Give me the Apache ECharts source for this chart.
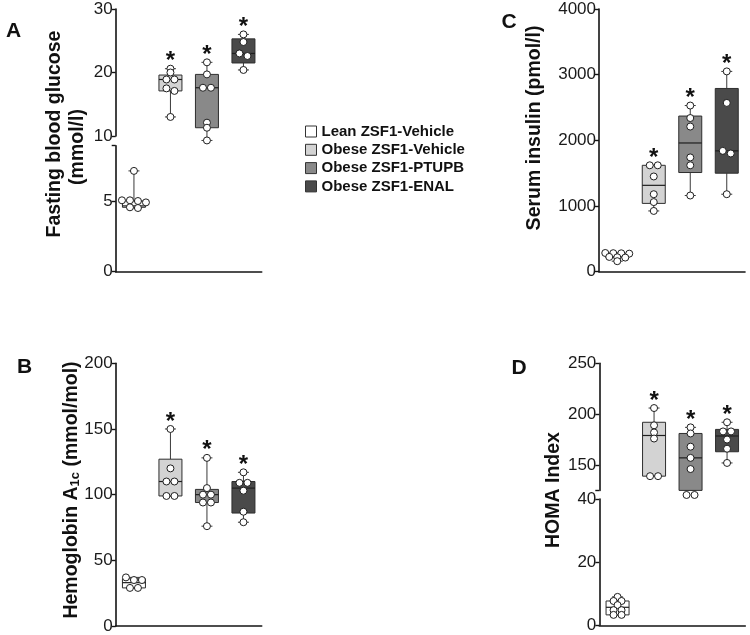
<!DOCTYPE html>
<html><head><meta charset="utf-8">
<script src="https://cdn.jsdelivr.net/npm/echarts@6/dist/echarts.min.js"></script>
<style>html,body{margin:0;padding:0;background:#fff}#c{width:750px;height:635px}</style>
</head><body><div id="c"></div>
<script>
// ---------- DATA ----------
const groups = ['Lean ZSF1-Vehicle', 'Obese ZSF1-Vehicle', 'Obese ZSF1-PTUPB', 'Obese ZSF1-ENAL'];
const significant = [0, 1, 1, 1];

// A: Fasting blood glucose (mmol/l)  box = [min, Q1, median, Q3, max]
const glucoseBox = [[4.55, 4.6, 4.7, 5.05, 7.2], [13.0, 17.1, 18.9, 19.6, 20.6], [9.3, 11.3, 17.6, 19.7, 21.6], [20.4, 21.5, 23.0, 25.3, 26.0]];
const glucosePts = [[7.2, 5.1, 5.1, 5.05, 4.95, 4.6, 4.55], [20.6, 20.0, 18.9, 18.9, 17.5, 17.1, 13.0], [21.6, 19.7, 17.6, 17.6, 12.1, 11.3, 9.3], [26.0, 24.8, 23.0, 22.6, 20.4]];
const glucoseTicksLow = [0, 5];
const glucoseTicksHigh = [10, 20, 30];

// B: Hemoglobin A1c (mmol/mol)
const hba1cBox = [[29, 29, 33, 36, 37], [99, 99, 110, 127, 150], [76, 94, 100, 104, 128], [79, 86, 105, 110, 117]];
const hba1cPts = [[37, 35, 35, 29, 29], [150, 120, 110, 110, 99, 99], [128, 105, 100, 100, 94, 94, 76], [117, 109, 109, 103, 87, 79]];
const hba1cTicks = [0, 50, 100, 150, 200];

// C: Serum insulin (pmol/l)
const insulinBox = [[160, 215, 245, 280, 285], [925, 1040, 1315, 1620, 1620], [1160, 1510, 1960, 2370, 2530], [1180, 1500, 1840, 2790, 3050]];
const insulinPts = [[285, 282, 280, 275, 225, 220, 215, 160], [1620, 1620, 1450, 1180, 1060, 925], [2530, 2340, 2210, 1740, 1620, 1160], [3050, 2570, 1840, 1800, 1180]];
const insulinTicks = [0, 1000, 2000, 3000, 4000];

// D: HOMA Index
const homaBox = [[3.3, 3.3, 5.7, 7.7, 9.0], [139, 139, 179, 192, 206], [125, 125, 157, 181, 187], [152, 163, 178.5, 185, 192]];
const homaPts = [[9.0, 7.7, 7.7, 6.4, 4.8, 4.8, 3.3, 3.3], [206, 189, 182, 176, 139, 139], [187, 181, 168, 157, 146, 120.5, 120.5], [192, 183, 183, 175, 166, 152]];
const homaTicksLow = [0, 20, 40];
const homaTicksHigh = [150, 200, 250];

// ---------- STYLE ----------
const FONT = "'Liberation Sans', Arial, Helvetica, sans-serif";
const groupColors = ['#ffffff', '#d3d3d3', '#898989', '#4a4a4a'];
const AXIS = '#141414';

function rowOffsets(vals, unitPx) {
  const order = vals.map((v, i) => i).sort((a, b) => vals[b] - vals[a]);
  const offs = new Array(vals.length).fill(0);
  let row = [];
  const flush = () => { const k = row.length; row.forEach((i, j) => offs[i] = (j - (k - 1) / 2) * 8); row = []; };
  order.forEach(i => {
    if (row.length && ((vals[row[row.length - 1]] - vals[i]) * unitPx >= 3 || row.length >= 4)) flush();
    row.push(i);
  });
  flush();
  return offs;
}

function boxRender(params, api) {
  const c = api.value(0);
  const v = [1, 2, 3, 4, 5].map(i => api.value(i));
  const sig = api.value(6);
  const py = val => api.coord([c, val])[1];
  const cx = api.coord([c, v[2]])[0];
  const yMin = py(v[0]), yQ1 = py(v[1]), yMed = py(v[2]), yQ3 = py(v[3]), yMax = py(v[4]);
  const hw = 11.5, cw = 5.5;
  const ls = { stroke: '#3a3a3a', lineWidth: 1 };
  const ch = [
    { type: 'line', shape: { x1: cx, y1: yQ3, x2: cx, y2: yMax }, style: ls },
    { type: 'line', shape: { x1: cx, y1: yQ1, x2: cx, y2: yMin }, style: ls },
    { type: 'line', shape: { x1: cx - cw, y1: yMax, x2: cx + cw, y2: yMax }, style: ls },
    { type: 'line', shape: { x1: cx - cw, y1: yMin, x2: cx + cw, y2: yMin }, style: ls },
    { type: 'rect', shape: { x: cx - hw, y: yQ3, width: 2 * hw, height: yQ1 - yQ3 }, style: { fill: api.visual('color'), stroke: '#2e2e2e', lineWidth: 1 } },
    { type: 'line', shape: { x1: cx - hw, y1: yMed, x2: cx + hw, y2: yMed }, style: { stroke: '#1e1e1e', lineWidth: 1.2 } }
  ];
  if (sig) ch.push({ type: 'text', x: cx, y: yMax - 7, style: { text: '*', font: 'bold 24px ' + FONT, align: 'center', verticalAlign: 'middle', fill: '#111' } });
  return { type: 'group', children: ch };
}

const grids = [], xAxes = [], yAxes = [], series = [];
function addSeg(left, width, seg, box, pts) {
  const gi = grids.length;
  grids.push({ left: left, top: seg.top, width: width, height: seg.height, containLabel: false, outerBoundsMode: 'none' });
  xAxes.push({ type: 'category', gridIndex: gi, data: groups, boundaryGap: true,
    axisLine: { show: !!seg.xLine, lineStyle: { color: AXIS, width: 1.6 } },
    axisTick: { show: false }, axisLabel: { show: false }, splitLine: { show: false } });
  yAxes.push({ type: 'value', gridIndex: gi, min: seg.min, max: seg.max,
    axisLine: { show: true, lineStyle: { color: AXIS, width: 1.6 } },
    axisTick: { show: true, length: 4, lineStyle: { color: AXIS, width: 1.4 }, customValues: seg.tickVals },
    axisLabel: { customValues: seg.labels, fontSize: 17, color: '#1a1a1a', fontFamily: FONT, margin: 3, formatter: val => String(val) },
    splitLine: { show: false } });
  const unitPx = seg.height / (seg.max - seg.min);
  seg.groups.forEach(g => {
    series.push({ type: 'custom', name: groups[g], xAxisIndex: gi, yAxisIndex: gi, renderItem: boxRender,
      itemStyle: { color: groupColors[g] }, data: [[g].concat(box[g], [significant[g]])],
      encode: { x: 0, y: [1, 2, 3, 4, 5] }, z: 2, clip: false, silent: true });
    const offs = rowOffsets(pts[g], unitPx);
    series.push({ type: 'scatter', name: groups[g], xAxisIndex: gi, yAxisIndex: gi, symbol: 'circle', symbolSize: 7,
      itemStyle: { color: '#fff', borderColor: '#1e1e1e', borderWidth: 1, opacity: 1 },
      data: pts[g].map((v, i) => ({ value: [g, v], symbolOffset: [offs[i], 0] })),
      z: 3, clip: false, silent: true });
  });
}

// Panel A (broken axis)
addSeg(115.7, 146, { top: 9, height: 127, min: 10, max: 30, tickVals: glucoseTicksHigh, labels: glucoseTicksHigh, groups: [1, 2, 3] }, glucoseBox, glucosePts);
addSeg(115.7, 146, { top: 145.7, height: 126, min: 0, max: 9, tickVals: glucoseTicksLow.concat([9]), labels: glucoseTicksLow, groups: [0], xLine: true }, glucoseBox, glucosePts);
// Panel C
addSeg(599, 146, { top: 9, height: 262.7, min: 0, max: 4000, tickVals: insulinTicks, labels: insulinTicks, groups: [0, 1, 2, 3], xLine: true }, insulinBox, insulinPts);
// Panel B
addSeg(115.7, 146, { top: 363.3, height: 262.7, min: 0, max: 200, tickVals: hba1cTicks, labels: hba1cTicks, groups: [0, 1, 2, 3], xLine: true }, hba1cBox, hba1cPts);
// Panel D (broken axis)
addSeg(599.3, 146, { top: 363.3, height: 127.1, min: 125, max: 250, tickVals: [125].concat(homaTicksHigh), labels: homaTicksHigh, groups: [1, 2, 3] }, homaBox, homaPts);
addSeg(599.3, 146, { top: 499, height: 126.3, min: 0, max: 40, tickVals: homaTicksLow, labels: homaTicksLow, groups: [0], xLine: true }, homaBox, homaPts);

const titleFont = 'bold 19.5px ' + FONT;
const letterFont = 'bold 21px ' + FONT;
function vtext(x, y, text) {
  return { type: 'text', x: x, y: y, rotation: Math.PI / 2, style: { text: text, font: titleFont, align: 'center', verticalAlign: 'middle', fill: '#111' } };
}

const option = {
  animation: false,
  backgroundColor: '#fff',
  grid: grids, xAxis: xAxes, yAxis: yAxes, series: series,
  legend: {
    orient: 'vertical', left: 305, top: 124, padding: 0, itemWidth: 11, itemHeight: 11, itemGap: 3.3, itemTextGap: 7,
    icon: 'rect', selectedMode: false,
    textStyle: { fontFamily: FONT, fontWeight: 'bold', fontSize: 15, color: '#111', lineHeight: 15 },
    data: groups.map((g, i) => ({ name: g, itemStyle: { color: groupColors[i], borderColor: '#333', borderWidth: 1 } }))
  },
  graphic: [
    vtext(55, 134, 'Fasting blood glucose'),
    vtext(78, 147, '(mmol/l)'),
    vtext(535, 128, 'Serum insulin (pmol/l)'),
    { type: 'text', x: 71.7, y: 490, rotation: Math.PI / 2,
      style: { text: '{a|Hemoglobin A}{s|1c}{a| (mmol/mol)}', align: 'center', verticalAlign: 'middle', fill: '#111',
        rich: { a: { font: titleFont, lineHeight: 20, fill: '#111' }, s: { font: 'bold 13px ' + FONT, lineHeight: 8, verticalAlign: 'bottom', fill: '#111' } } } },
    vtext(553.3, 490, 'HOMA Index'),
    { type: 'text', x: 13.5, y: 31, style: { text: 'A', font: letterFont, align: 'center', verticalAlign: 'middle', fill: '#111' } },
    { type: 'text', x: 509, y: 22.5, style: { text: 'C', font: letterFont, align: 'center', verticalAlign: 'middle', fill: '#111' } },
    { type: 'text', x: 24.5, y: 367.5, style: { text: 'B', font: letterFont, align: 'center', verticalAlign: 'middle', fill: '#111' } },
    { type: 'text', x: 519, y: 368, style: { text: 'D', font: letterFont, align: 'center', verticalAlign: 'middle', fill: '#111' } }
  ]
};
echarts.init(document.getElementById('c'), null, { renderer: 'canvas' }).setOption(option);
</script>
</body></html>
